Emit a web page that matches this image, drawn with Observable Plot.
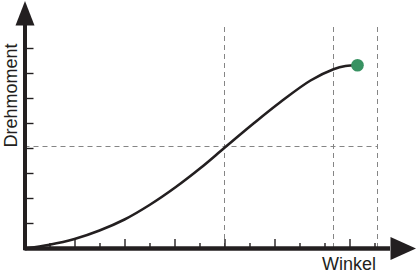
<!DOCTYPE html>
<html>
<head>
<meta charset="utf-8">
<script src="https://cdn.jsdelivr.net/npm/d3@7"></script>
<script src="https://cdn.jsdelivr.net/npm/@observablehq/plot@0.6"></script>
<style>
  html, body { margin: 0; padding: 0; background: #fff; }
  svg { display: block; overflow: visible; }
</style>
</head>
<body>
<div id="chart"></div>
<script>
// ---- data ----
const xLabel = "Winkel";
const yLabel = "Drehmoment";
const xTicks = [1, 2, 3, 4, 5, 6, 7, 8, 9, 10, 11, 12, 13, 14];
const xMajorTicks = [2, 4, 6, 8, 10, 13];
const yTicks = [1, 2, 3, 4, 5, 6, 7, 8];
const curveX = [0, 0.98, 1.98, 2.98, 3.98, 4.98, 6.02, 7.02, 7.98, 9.14, 10.22, 11.42, 12.34, 12.82, 13.3];
const curveY = [0, 0.15, 0.38, 0.72, 1.16, 1.74, 2.45, 3.22, 4.03, 5.0, 5.86, 6.72, 7.17, 7.3, 7.33];
const guideX = [7.98, 12.34, 14.1];
const guideY = [4.08];
const endPoint = [{x: 13.3, y: 7.33}];
const xAxisEnd = 14.62;
const yAxisEnd = 8.92;
const guideTop = 8.92;
const guideRight = 14.1;

const curve = curveX.map((x, i) => ({x, y: curveY[i]}));

// ---- styles ----
const ink = "#231f20";
const pxPerUnit = 25;
const arrowRight = {draw(ctx) { ctx.moveTo(0, -11.5); ctx.lineTo(25.5, 0); ctx.lineTo(0, 11.5); ctx.closePath(); }};
const arrowUp = {draw(ctx) { ctx.moveTo(-9.5, 0); ctx.lineTo(0, -24.5); ctx.lineTo(9.5, 0); ctx.closePath(); }};

const chart = Plot.plot({
  width: 416,
  height: 275,
  marginTop: 0, marginRight: 0, marginBottom: 0, marginLeft: 0,
  x: {domain: [0, 14], range: [24.5, 374.5], axis: null},
  y: {domain: [0, 8], range: [248, 48], axis: null},
  style: {fontFamily: "'Liberation Sans', Arial, Helvetica, sans-serif", background: "#fff"},
  marks: [
    Plot.ruleX(guideX, {x: d => d, y1: 0, y2: guideTop, stroke: "#858585", strokeWidth: 1, strokeDasharray: "5,4"}),
    Plot.ruleY(guideY, {y: d => d, x1: 0, x2: guideRight, stroke: "#858585", strokeWidth: 1, strokeDasharray: "5,4"}),
    Plot.line(curve, {x: "x", y: "y", curve: "catmull-rom", stroke: ink, strokeWidth: 2.6}),
    Plot.ruleX(xTicks, {x: d => d, y1: 0, y2: d => (xMajorTicks.includes(d) ? 9 : 5) / pxPerUnit, stroke: ink, strokeWidth: 1.4}),
    Plot.ruleY(yTicks, {y: d => d, x1: 0, x2: 9 / pxPerUnit, stroke: ink, strokeWidth: 1.4}),
    Plot.ruleY([0], {x1: 0, x2: xAxisEnd, stroke: ink, strokeWidth: 4.5}),
    Plot.ruleX([0], {y1: -0.09, y2: yAxisEnd, stroke: ink, strokeWidth: 4}),
    Plot.dot([{x: xAxisEnd, y: 0}], {x: "x", y: "y", symbol: arrowRight, fill: ink, stroke: "none", r: 5}),
    Plot.dot([{x: 0, y: yAxisEnd}], {x: "x", y: "y", symbol: arrowUp, fill: ink, stroke: "none", r: 5}),
    Plot.dot(endPoint, {x: "x", y: "y", r: 6.3, fill: "#389262", stroke: "none"}),
    Plot.text([yLabel], {text: d => d, frameAnchor: "left", rotate: -90, dx: 11, dy: -42.5, textAnchor: "middle", lineAnchor: "middle", fontSize: 18, fill: ink}),
    Plot.text([xLabel], {text: d => d, frameAnchor: "bottom-right", dx: -40.5, dy: -10.8, textAnchor: "end", lineAnchor: "middle", fontSize: 18, fill: ink})
  ]
});
document.getElementById("chart").appendChild(chart);
</script>
</body>
</html>
